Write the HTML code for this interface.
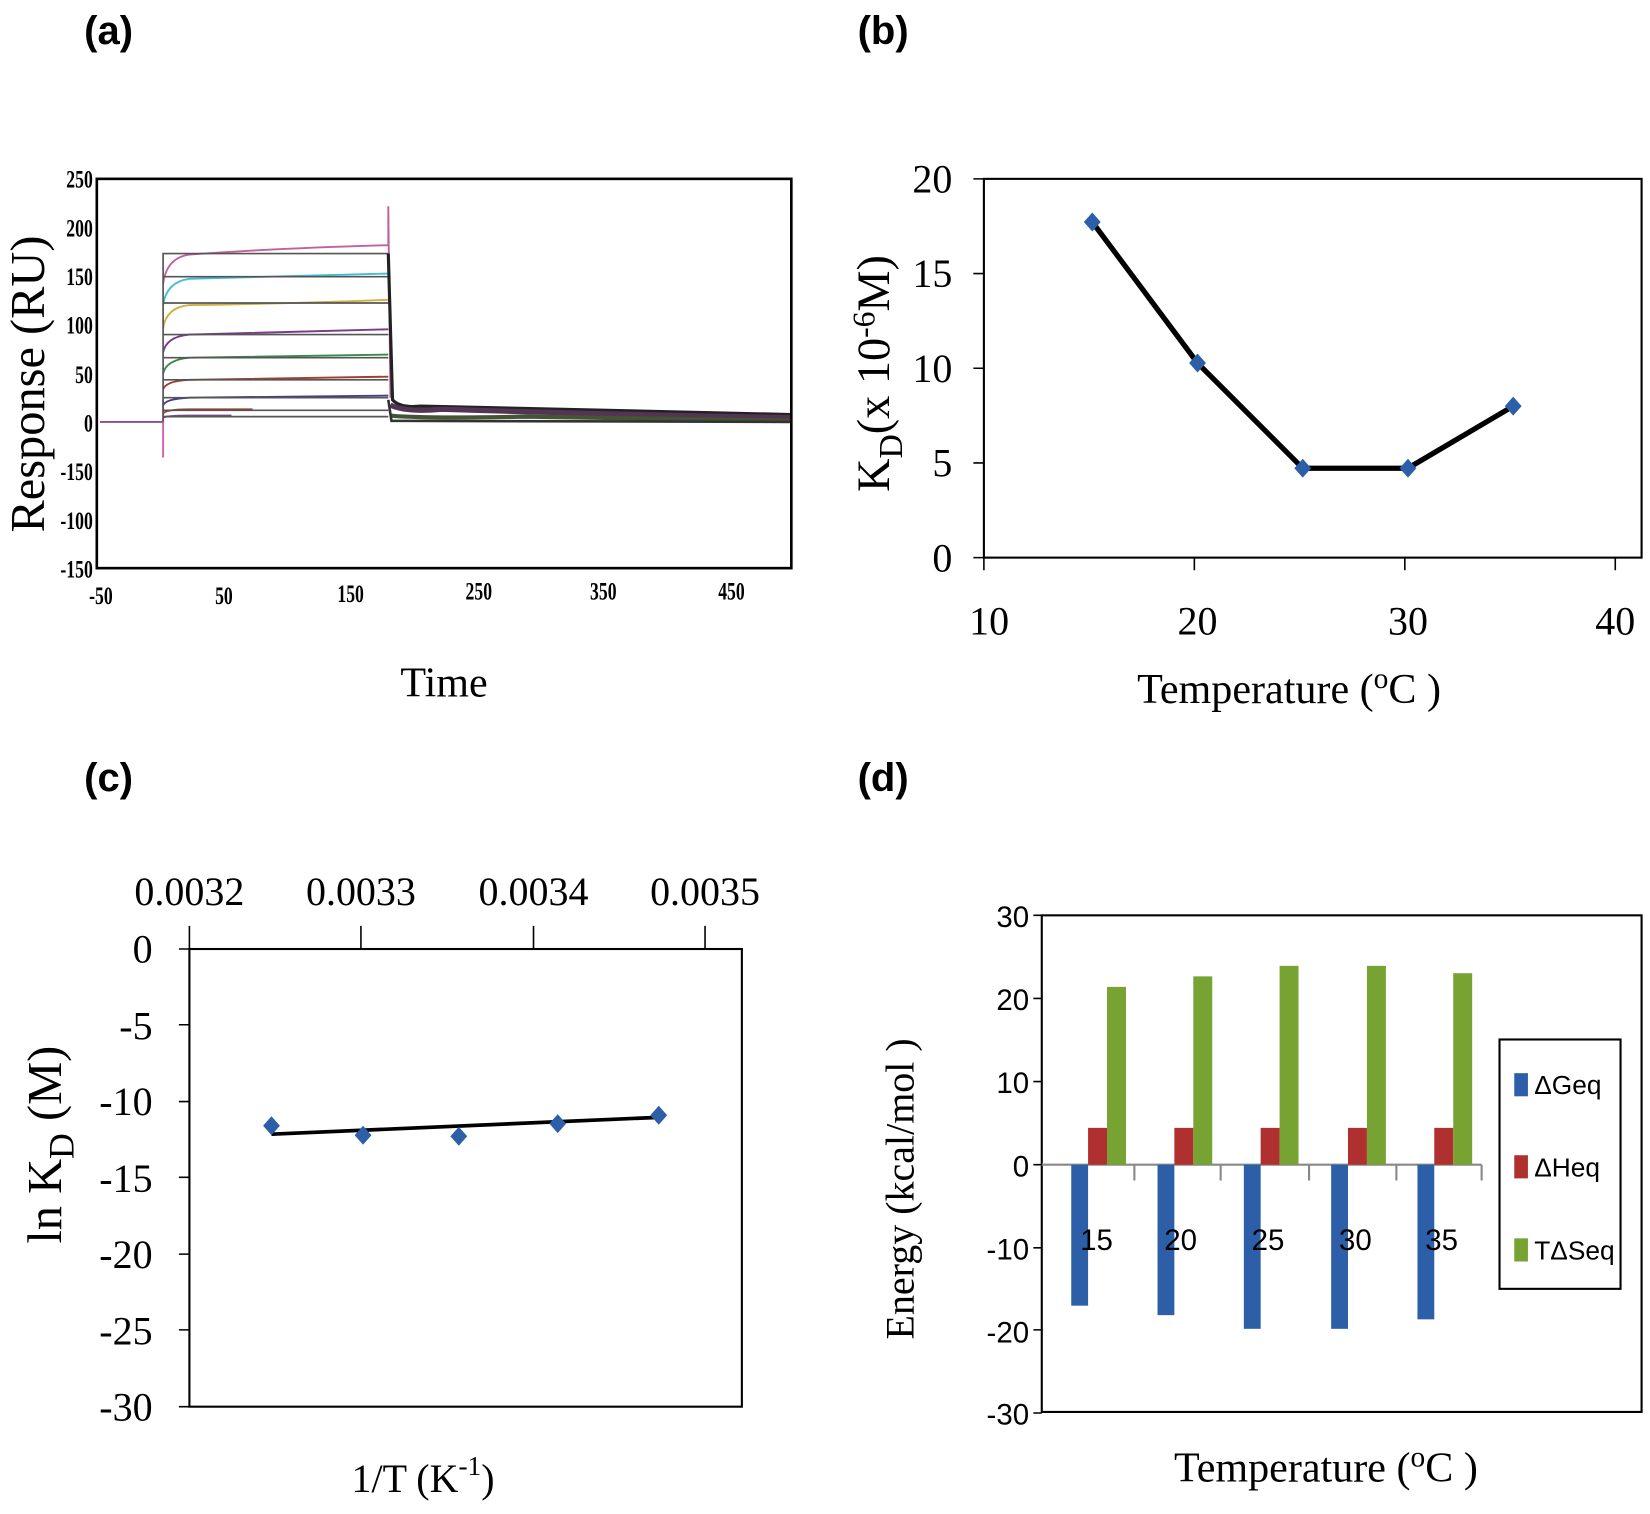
<!DOCTYPE html>
<html><head><meta charset="utf-8"><style>html,body{margin:0;padding:0;background:#fff;overflow:hidden}svg{display:block}</style></head>
<body>
<svg width="1650" height="1514" viewBox="0 0 1568 1439" preserveAspectRatio="none" xmlns="http://www.w3.org/2000/svg" font-family="Liberation Serif, serif">
<rect width="1568" height="1439" fill="#fff"/>
<g font-family="Liberation Sans, sans-serif" font-weight="bold" font-size="38">
<text x="80" y="42">(a)</text><text x="815" y="42">(b)</text>
<text x="80" y="752">(c)</text><text x="815" y="752">(d)</text>
</g>

<!-- (a) -->
<g>
<g stroke-width="1.8" fill="none">
<path d="M95 401 H155" stroke="#8a4a9a"/>
<path d="M155 401 L155 435 M155 401 L155 380" stroke="#d060b0"/>
<path d="M155 270 Q158 245 180 242 Q260 236 369 233 L369 196 L371 378" stroke="#c060a0"/>
<path d="M155 290 Q158 268 180 265 Q260 263 369 260" stroke="#40c0d0"/>
<path d="M155 312 Q158 292 180 290 Q260 289 369 285" stroke="#d0b040"/>
<path d="M155 335 Q158 320 180 318 Q260 316 369 313" stroke="#7a3a8a"/>
<path d="M155 355 Q158 342 180 340 Q260 339 369 337" stroke="#3a8a4a"/>
<path d="M155 370 Q158 362 180 361 Q260 360 369 358" stroke="#a04030"/>
<path d="M155 385 Q158 379 180 378 Q260 377 369 376" stroke="#4a3a8a"/>
<path d="M155 393 Q158 389 180 389 L240 389" stroke="#a04030"/>
<path d="M155 397 Q158 395 180 395 L220 395" stroke="#7a4a8a"/>
<g stroke="#555" stroke-width="1.6">
<path d="M155 401 V241 H369 M155 263 H369 M155 288 H369 M155 318 H369 M155 340 H369 M155 361 H369 M155 378 H369 M155 390 H369 M155 396 H369"/>
</g>
<path d="M369 241 L373 380 Q380 388 400 386 Q550 390 752 394" stroke="#222" stroke-width="3"/>
<path d="M371 385 Q385 392 420 389 Q580 394 752 397" stroke="#553355" stroke-width="5"/>
<path d="M371 395 Q400 398 500 396 Q650 398 752 400" stroke="#445533" stroke-width="4"/>
<path d="M369 380 L372 400 L752 401" stroke="#333" stroke-width="2.5"/>
</g>
<rect x="92" y="170" width="660" height="370" fill="none" stroke="#000" stroke-width="2.5"/>
<g font-size="24" font-weight="bold" text-anchor="end" transform="scale(0.7,1)">
<text x="126" y="178">250</text><text x="126" y="225">200</text><text x="126" y="271">150</text><text x="126" y="317">100</text><text x="126" y="364">50</text><text x="126" y="410">0</text><text x="126" y="456">-150</text><text x="126" y="503">-100</text><text x="126" y="549">-150</text>
</g>
<g font-size="24" font-weight="bold" text-anchor="middle" transform="scale(0.7,1)">
<text x="137" y="574">-50</text><text x="304" y="574">50</text><text x="476" y="572">150</text><text x="650" y="570">250</text><text x="819" y="570">350</text><text x="993" y="570">450</text>
</g>
<text transform="translate(42,365) rotate(-90)" font-size="46" text-anchor="middle">Response (RU)</text>
<text x="422" y="662" font-size="40" text-anchor="middle">Time</text>
</g>

<!-- (b) -->
<g>
<rect x="935" y="170" width="625" height="360" fill="none" stroke="#000" stroke-width="2"/>
<g stroke="#000" stroke-width="1.5"><path d="M925 170H935M925 260H935M925 350H935M925 440H935M925 530H935M935 530V542M1135 530V542M1335 530V542M1535 530V542"/></g>
<g font-size="38" text-anchor="end"><text x="905" y="183">20</text><text x="905" y="273">15</text><text x="905" y="363">10</text><text x="905" y="453">5</text><text x="905" y="543">0</text></g>
<g font-size="38" text-anchor="middle"><text x="940" y="603">10</text><text x="1138" y="603">20</text><text x="1338" y="603">30</text><text x="1535" y="603">40</text></g>
<polyline points="1038,211 1138,345 1238,445 1338,445 1438,386" fill="none" stroke="#000" stroke-width="5"/>
<g fill="#2d5fa8"><path d="M1038 202l8 9-8 9-8-9z"/><path d="M1138 336l8 9-8 9-8-9z"/><path d="M1238 436l8 9-8 9-8-9z"/><path d="M1338 436l8 9-8 9-8-9z"/><path d="M1438 377l8 9-8 9-8-9z"/></g>
<text x="1225" y="668" font-size="40" text-anchor="middle">Temperature (<tspan font-size="28" dy="-14">o</tspan><tspan dy="14">C )</tspan></text>
<text transform="translate(845,355) rotate(-90)" font-size="44" text-anchor="middle">K<tspan font-size="32" dy="12">D</tspan><tspan dy="-12">(x 10</tspan><tspan font-size="30" dy="-14">-6</tspan><tspan dy="14">M)</tspan></text>
</g>

<!-- (c) -->
<g>
<rect x="180" y="902" width="525" height="435" fill="none" stroke="#000" stroke-width="2"/>
<g stroke="#000" stroke-width="1.5"><path d="M170 902H180M170 974H180M170 1047H180M170 1119H180M170 1192H180M170 1264H180M170 1337H180M180 902V880M343 902V880M507 902V880M670 902V880"/></g>
<g font-size="38" text-anchor="end"><text x="145" y="915">0</text><text x="145" y="988">-5</text><text x="145" y="1060">-10</text><text x="145" y="1133">-15</text><text x="145" y="1205">-20</text><text x="145" y="1278">-25</text><text x="145" y="1350">-30</text></g>
<g font-size="38" text-anchor="middle"><text x="180" y="860">0.0032</text><text x="343" y="860">0.0033</text><text x="507" y="860">0.0034</text><text x="670" y="860">0.0035</text></g>
<line x1="258" y1="1078" x2="626" y2="1062" stroke="#000" stroke-width="3.5"/>
<g fill="#2d5fa8"><path d="M258 1061l8 9-8 9-8-9z"/><path d="M345 1070l8 9-8 9-8-9z"/><path d="M436 1071l8 9-8 9-8-9z"/><path d="M530 1059l8 9-8 9-8-9z"/><path d="M626 1051l8 9-8 9-8-9z"/></g>
<text transform="translate(58,1088) rotate(-90)" font-size="46" text-anchor="middle">ln K<tspan font-size="34" dy="12">D</tspan><tspan dy="-12"> (M)</tspan></text>
<text x="402" y="1418" font-size="38" text-anchor="middle">1/T (K<tspan font-size="26" dy="-16">-1</tspan><tspan dy="16">)</tspan></text>
</g>

<!-- (d) -->
<g>
<rect x="990" y="870" width="570" height="472" fill="none" stroke="#000" stroke-width="2"/>
<g stroke="#000" stroke-width="1.5"><path d="M982 870H990M982 949H990M982 1028H990M982 1107H990M982 1186H990M982 1264H990M982 1343H990"/></g>
<g stroke="#888" stroke-width="2"><path d="M990 1107H1408M1078 1107V1122M1160 1107V1122M1244 1107V1122M1327 1107V1122M1408 1107V1122"/></g>
<g fill="#2d5fa8">
<rect x="1018" y="1107" width="16" height="134"/><rect x="1100" y="1107" width="16" height="143"/><rect x="1182" y="1107" width="16" height="156"/><rect x="1265" y="1107" width="16" height="156"/><rect x="1347" y="1107" width="16" height="147"/></g>
<g fill="#b0302f">
<rect x="1034" y="1072" width="18" height="35"/><rect x="1116" y="1072" width="18" height="35"/><rect x="1198" y="1072" width="18" height="35"/><rect x="1281" y="1072" width="18" height="35"/><rect x="1363" y="1072" width="18" height="35"/></g>
<g fill="#77a333">
<rect x="1052" y="938" width="18" height="169"/><rect x="1134" y="928" width="18" height="179"/><rect x="1216" y="918" width="18" height="189"/><rect x="1299" y="918" width="18" height="189"/><rect x="1381" y="925" width="18" height="182"/></g>
<g font-family="Liberation Sans Narrow, Liberation Sans, sans-serif" font-size="28">
<g text-anchor="end"><text x="978" y="881">30</text><text x="978" y="960">20</text><text x="978" y="1039">10</text><text x="978" y="1118">0</text><text x="978" y="1197">-10</text><text x="978" y="1276">-20</text><text x="978" y="1354">-30</text></g>
<g text-anchor="middle"><text x="1042" y="1188">15</text><text x="1122" y="1188">20</text><text x="1205" y="1188">25</text><text x="1288" y="1188">30</text><text x="1370" y="1188">35</text></g>
</g>
<rect x="1425" y="988" width="115" height="237" fill="#fff" stroke="#000" stroke-width="2"/>
<rect x="1439" y="1020" width="13" height="22" fill="#2d5fa8"/><rect x="1439" y="1098" width="13" height="22" fill="#b0302f"/><rect x="1439" y="1177" width="13" height="22" fill="#77a333"/>
<g font-family="Liberation Sans Narrow, Liberation Sans, sans-serif" font-size="25"><text x="1458" y="1040">ΔGeq</text><text x="1458" y="1118">ΔHeq</text><text x="1458" y="1197">TΔSeq</text></g>
<text transform="translate(868,1130) rotate(-90)" font-size="38" text-anchor="middle">Energy  (kcal/mol )</text>
<text x="1260" y="1408" font-size="40" text-anchor="middle">Temperature (<tspan font-size="28" dy="-14">o</tspan><tspan dy="14">C )</tspan></text>
</g>
</svg>
</body></html>
